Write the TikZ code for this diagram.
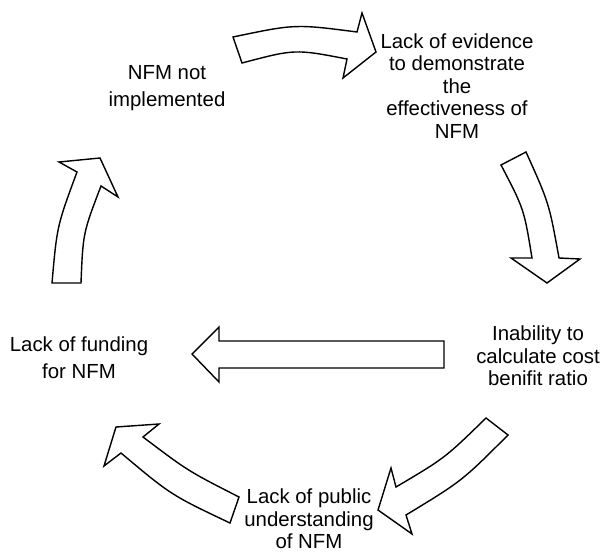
\documentclass[tikz,border=0pt]{standalone}
\usepackage{fontspec}
\setmainfont{Liberation Sans}
\usepackage{tikz}

\tikzset{
  label/.style={align=center,inner sep=0pt,font=\fontsize{11.6}{12.8}\selectfont},
  blockarrow/.style={thick,line join=miter,fill=white}
}

\begin{document}
\begin{tikzpicture}[x=0.2mm,y=-0.2mm]

\useasboundingbox (0,0) rectangle (609,551) ;

\node [label] (notimpl) at (167,88) {NFM not\\[2.5pt] implemented} ;
\node [label] (evidence) at (457,86) {Lack of evidence\\to demonstrate\\the\\effectiveness of\\NFM} ;
\node [label] (inability) at (538,356) {Inability to\\calculate cost\\benifit ratio} ;
\node [label] (public) at (309,519) {Lack of public\\understanding\\of NFM} ;
\node [label] (funding) at (79,358) {Lack of funding\\[2.5pt] for NFM} ;

\draw [blockarrow] (233,37) .. controls (295,24) .. (357,32) -- (362,13) -- (376,52) -- (343,78) -- (347,59) .. controls (295,49) .. (242,63) -- cycle ;
\draw [blockarrow] (501,165) -- (526,152) .. controls (549,203) .. (559,258) -- (580,259) -- (547,283) -- (511,258) -- (532,258) .. controls (524,209) .. (501,165) -- cycle ;
\draw [blockarrow] (444,341) -- (219,341) -- (219,327) -- (192,354) -- (219,382) -- (219,368) -- (444,368) -- cycle ;
\draw [blockarrow] (486,418) -- (508,435) .. controls (462,481) .. (406,515) -- (412,534) -- (378,510) -- (391,468) -- (396,487) .. controls (445,458) .. (486,418) -- cycle ;
\draw [blockarrow] (239,497) -- (230,523) .. controls (171,495) .. (121,453) -- (104,466) -- (116,427) -- (159,424) -- (143,437) .. controls (188,471) .. (239,497) -- cycle ;
\draw [blockarrow] (52,283) .. controls (57,226) .. (77,172) -- (59,162) -- (100,158) -- (118,197) -- (101,186) .. controls (83,233) .. (81,283) -- cycle ;

\end{tikzpicture}
\end{document}
